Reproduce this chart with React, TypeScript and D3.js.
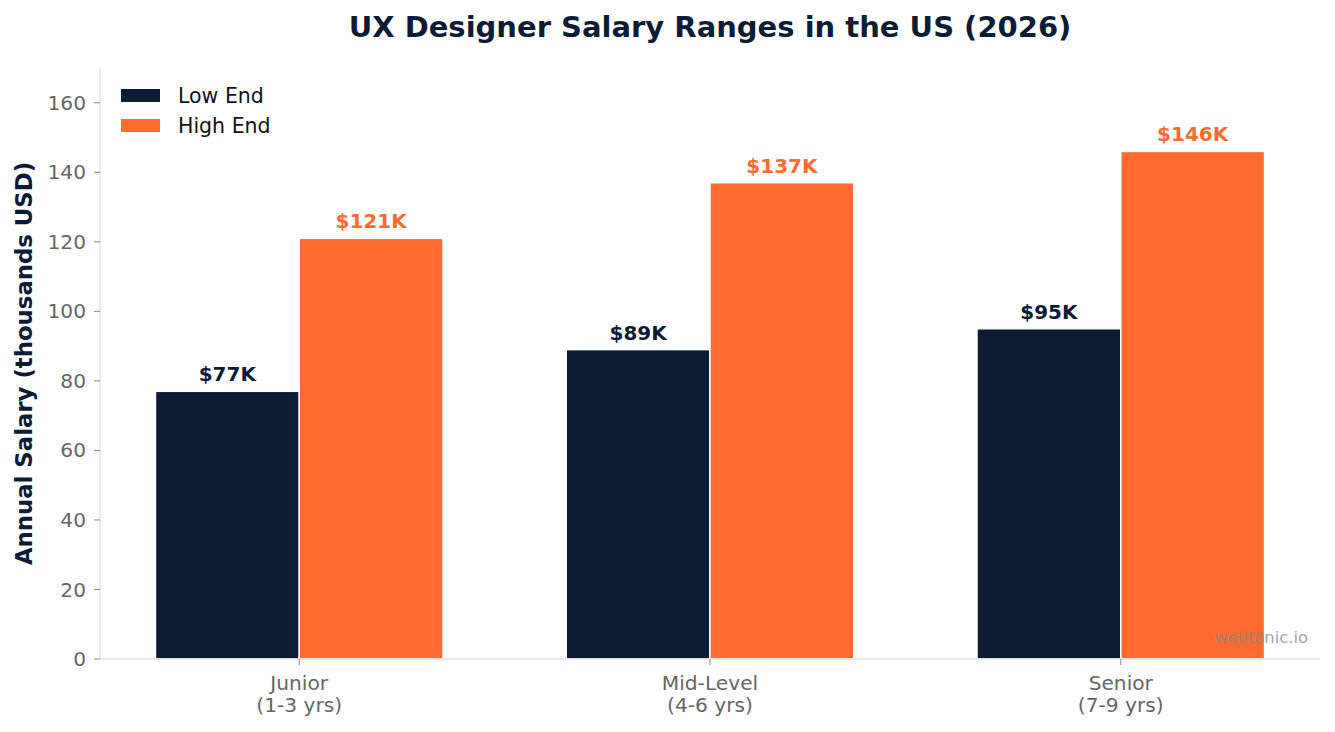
import React, { useEffect, useRef } from "react";
import * as d3 from "d3";

// salary ranges by experience level, thousands USD
const levels = ["Junior", "Mid-Level", "Senior"];
const levelYears = ["(1-3 yrs)", "(4-6 yrs)", "(7-9 yrs)"];
const lowEnd = [77, 89, 95];
const highEnd = [121, 137, 146];
const yTicks = [0, 20, 40, 60, 80, 100, 120, 140, 160];

const NAVY = "#0d1c34";
const ORANGE = "#ff6b2f";
const FONT = "DejaVu Sans, sans-serif";

const App = () => {
  const ref = useRef<SVGSVGElement>(null);

  useEffect(() => {
    const width = 1335;
    const height = 732;
    const margin = { top: 68, right: 15, bottom: 73, left: 100 };

    const svg = d3.select(ref.current);
    svg.selectAll("*").remove();

    const x = d3
      .scaleLinear()
      .domain([-0.485, levels.length - 1 + 0.485])
      .range([margin.left, width - margin.right]);
    const y = d3
      .scaleLinear()
      .domain([0, 170])
      .range([height - margin.bottom, margin.top]);
    const barW = 0.35;

    const series = [
      { name: "Low End", values: lowEnd, color: NAVY, offset: -barW / 2 },
      { name: "High End", values: highEnd, color: ORANGE, offset: barW / 2 },
    ];

    // bars
    series.forEach((s) => {
      svg
        .append("g")
        .selectAll("rect")
        .data(s.values)
        .enter()
        .append("rect")
        .attr("x", (d, i) => x(i + s.offset - barW / 2))
        .attr("y", (d) => y(d))
        .attr("width", x(barW) - x(0))
        .attr("height", (d) => y(0) - y(d))
        .attr("fill", s.color)
        .attr("stroke", "white")
        .attr("stroke-width", 1.5);

      svg
        .append("g")
        .selectAll("text")
        .data(s.values)
        .enter()
        .append("text")
        .attr("x", (d, i) => x(i + s.offset))
        .attr("y", (d) => y(d) - 10)
        .attr("text-anchor", "middle")
        .attr("font-family", FONT)
        .attr("font-weight", "bold")
        .attr("font-size", 20)
        .attr("fill", s.color)
        .text((d) => `$${d}K`);
    });

    // spines
    svg
      .append("line")
      .attr("x1", margin.left)
      .attr("x2", margin.left)
      .attr("y1", margin.top)
      .attr("y2", y(0))
      .attr("stroke", "#e2e2e8")
      .attr("stroke-width", 1.5);
    svg
      .append("line")
      .attr("x1", margin.left)
      .attr("x2", width - margin.right)
      .attr("y1", y(0))
      .attr("y2", y(0))
      .attr("stroke", "#e2e2e8")
      .attr("stroke-width", 1.5);

    // y ticks
    const yt = svg.append("g");
    yTicks.forEach((t) => {
      yt.append("line")
        .attr("x1", margin.left - 6)
        .attr("x2", margin.left)
        .attr("y1", y(t))
        .attr("y2", y(t))
        .attr("stroke", "#888")
        .attr("stroke-width", 1);
      yt.append("text")
        .attr("x", margin.left - 14)
        .attr("y", y(t))
        .attr("dy", "0.35em")
        .attr("text-anchor", "end")
        .attr("font-family", FONT)
        .attr("font-size", 20.2)
        .attr("fill", "#666")
        .text(t);
    });

    // x ticks
    const xt = svg.append("g");
    levels.forEach((lv, i) => {
      xt.append("line")
        .attr("x1", x(i))
        .attr("x2", x(i))
        .attr("y1", y(0))
        .attr("y2", y(0) + 6)
        .attr("stroke", "#888")
        .attr("stroke-width", 1);
      const t = xt
        .append("text")
        .attr("text-anchor", "middle")
        .attr("font-family", FONT)
        .attr("font-size", 20.2)
        .attr("fill", "#666");
      t.append("tspan").attr("x", x(i)).attr("y", y(0) + 31).text(lv);
      t.append("tspan").attr("x", x(i)).attr("y", y(0) + 53).text(levelYears[i]);
    });

    // axis label
    svg
      .append("text")
      .attr("transform", `translate(32,${(margin.top + y(0)) / 2}) rotate(-90)`)
      .attr("text-anchor", "middle")
      .attr("font-family", FONT)
      .attr("font-weight", "bold")
      .attr("font-size", 22.8)
      .attr("fill", NAVY)
      .text("Annual Salary (thousands USD)");

    // title
    svg
      .append("text")
      .attr("x", (margin.left + width - margin.right) / 2)
      .attr("y", 37)
      .attr("text-anchor", "middle")
      .attr("font-family", FONT)
      .attr("font-weight", "bold")
      .attr("font-size", 29)
      .attr("fill", NAVY)
      .text("UX Designer Salary Ranges in the US (2026)");

    // legend
    const lg = svg.append("g").attr("transform", "translate(121,89)");
    series.forEach((s, i) => {
      lg.append("rect")
        .attr("x", 0)
        .attr("y", i * 30)
        .attr("width", 39)
        .attr("height", 13)
        .attr("fill", s.color);
      lg.append("text")
        .attr("x", 57)
        .attr("y", i * 30 + 6.5)
        .attr("dy", "0.35em")
        .attr("font-family", FONT)
        .attr("font-size", 20.5)
        .attr("fill", "#111")
        .text(s.name);
    });

    // watermark
    svg
      .append("text")
      .attr("x", 1308)
      .attr("y", 643)
      .attr("text-anchor", "end")
      .attr("font-family", FONT)
      .attr("font-size", 16.4)
      .attr("fill", "#888")
      .attr("opacity", 0.75)
      .text("webtonic.io");
  }, []);

  return (
    <svg
      ref={ref}
      width={1335}
      height={732}
      style={{ position: "absolute", left: 0, top: 0, background: "white" }}
    />
  );
};

export default App;
